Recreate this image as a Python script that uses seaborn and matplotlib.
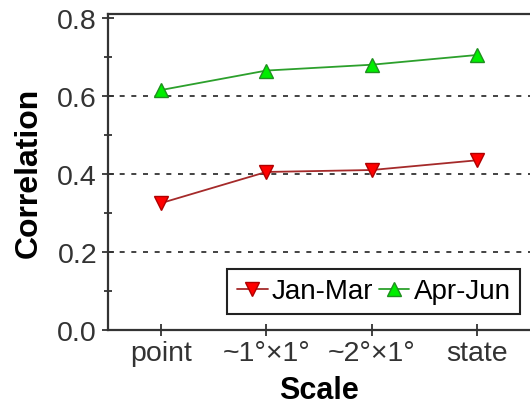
import matplotlib.pyplot as plt
import pandas as pd
import seaborn as sns
from matplotlib.ticker import MultipleLocator

sns.set_style('white')
plt.rcParams['font.family'] = ['Liberation Sans', 'DejaVu Sans']

scales = ['point', '~1°×1°', '~2°×1°', 'state']
jan_mar = [0.325, 0.405, 0.41, 0.435]
apr_jun = [0.615, 0.665, 0.68, 0.705]

df = pd.DataFrame({'scale': scales * 2,
                   'corr': jan_mar + apr_jun,
                   'period': ['Jan-Mar'] * 4 + ['Apr-Jun'] * 4})

styles = {
    'Jan-Mar': dict(color='#a52a2a', marker='v', markerfacecolor='#ff0000', markeredgecolor='#b00000'),
    'Apr-Jun': dict(color='#2ca02c', marker='^', markerfacecolor='#00ee00', markeredgecolor='#1f8f1f'),
}

fig = plt.figure(figsize=(5.3, 4.06), dpi=100)
ax = fig.add_axes([0.204, 0.185, 0.796, 0.778])

for period, kw in styles.items():
    sub = df[df['period'] == period]
    sns.lineplot(data=sub, x='scale', y='corr', ax=ax, label=period,
                 linewidth=1.3, markersize=10, markeredgewidth=1, **kw)

ax.set_xlim(-0.5, 3.5)
ax.set_ylim(0, 0.81)
ax.yaxis.set_major_locator(MultipleLocator(0.2))
ax.yaxis.set_minor_locator(MultipleLocator(0.1))
ax.set_yticklabels([f'{v:.1f}' for v in ax.get_yticks()])
for y in [0.2, 0.4, 0.6]:
    ax.axhline(y, color='#222222', linestyle=(0, (3, 4)), linewidth=1.2, zorder=0)

for side in ['left', 'bottom', 'top']:
    ax.spines[side].set_color('#333333')
    ax.spines[side].set_linewidth(1.6)
ax.spines['right'].set_visible(False)

ax.tick_params(axis='both', which='major', direction='inout', length=9, width=1.3,
               color='#333333', labelsize=20.5, labelcolor='#333333', left=True, bottom=True)
ax.tick_params(axis='y', which='minor', direction='inout', length=6, width=1.3,
               color='#333333', left=True)
ax.tick_params(axis='x', pad=3)

ax.set_xlabel('Scale', fontsize=22, fontweight='bold', labelpad=6, color='black')
ax.set_ylabel('Correlation', fontsize=23, fontweight='bold', labelpad=10, color='black')

leg = ax.legend(loc='lower right', bbox_to_anchor=(0.977, 0.05), ncol=2, fontsize=20,
                handlelength=1.1, handletextpad=0.15, columnspacing=0.2,
                borderpad=0.35, borderaxespad=0, fancybox=False, framealpha=1)
leg.get_frame().set_edgecolor('#222222')
leg.get_frame().set_linewidth(1.5)
for t in leg.get_texts():
    t.set_color('black')

fig.savefig('out.png', dpi=100)
